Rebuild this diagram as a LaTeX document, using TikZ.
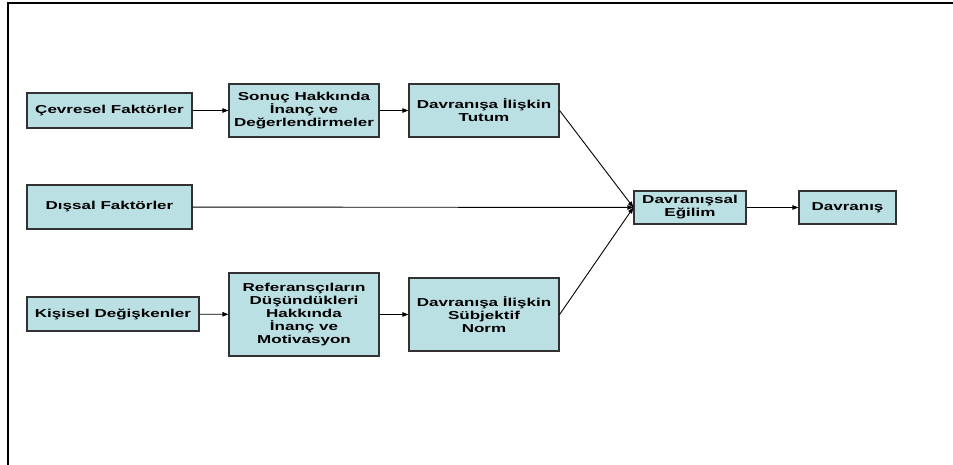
\documentclass[tikz,border=0pt]{standalone}
\usepackage{fontspec}
\setmainfont[FakeStretch=1.48]{Liberation Sans}
\usetikzlibrary{arrows.meta}
\definecolor{boxfill}{RGB}{187,224,228}
\definecolor{boxline}{RGB}{50,50,50}
\begin{document}
\begin{tikzpicture}[x=1pt,y=-1pt,
  box/.style={draw=boxline,line width=1.2pt,fill=boxfill,align=center,
    inner sep=0pt,font=\fontsize{11.5}{13}\selectfont\bfseries},
  link/.style={draw=black,line width=0.9pt,-{Triangle[length=6pt,width=4.5pt]}}]
\useasboundingbox (0,0) rectangle (953,465);
\begin{scope}
\clip (0,0) rectangle (953,465);
% outer frame (top and left edges)
\draw[line width=2.7pt] (8,470) -- (8,3) -- (960,3);
\end{scope}

% upper row
\node[box,minimum width=165pt,minimum height=35pt] (cf) at (109.5,110.5) {Çevresel Faktörler};
\node[box,minimum width=150pt,minimum height=53pt] (sh) at (304,110.5) {Sonuç Hakkında\\İnanç ve\\Değerlendirmeler};
\node[box,minimum width=150pt,minimum height=53pt] (tt) at (484,110.5) {Davranışa İlişkin\\Tutum};

% middle row
\node[box,minimum width=165pt,minimum height=44pt] (df) at (109.5,207) {Dışsal Faktörler};
\node[box,minimum width=112pt,minimum height=33pt] (de) at (690,207.5) {Davranışsal\\Eğilim};
\node[box,minimum width=97pt,minimum height=33pt] (dv) at (847.5,207.5) {Davranış};

% lower row
\node[box,minimum width=172pt,minimum height=34pt] (kd) at (113,314) {Kişisel Değişkenler};
\node[box,minimum width=150pt,minimum height=83pt] (rf) at (304,314.5) {Referansçıların\\Düşündükleri\\Hakkında\\İnanç ve\\Motivasyon};
\node[box,minimum width=150pt,minimum height=73pt] (sn) at (484,314.5) {Davranışa İlişkin\\Sübjektif\\Norm};

% connectors
\draw[link] (cf) -- (sh);
\draw[link] (sh) -- (tt);
\draw[link] (tt.east) -- (de.west);
\draw[link] (df) -- (de);
\draw[link] (kd) -- (rf);
\draw[link] (rf) -- (sn);
\draw[link] (sn.east) -- (de.west);
\draw[link] (de) -- (dv);
\end{tikzpicture}
\end{document}
